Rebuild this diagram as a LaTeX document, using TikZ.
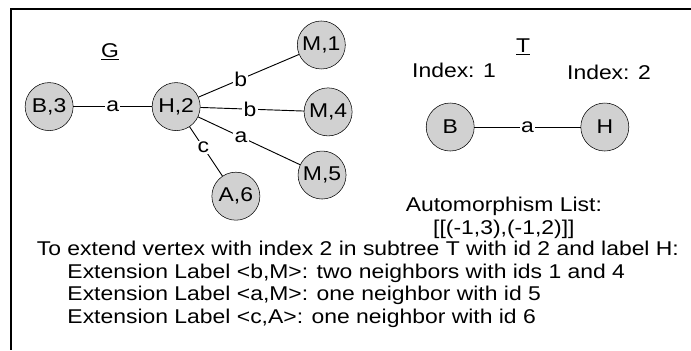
\documentclass[tikz,border=0pt]{standalone}
\usepackage{fontspec}
\setmainfont{Liberation Sans}[FakeStretch=1.15]
\usetikzlibrary{positioning}

\begin{document}
\begin{tikzpicture}[
    font=\fontsize{15}{16.9}\selectfont,
    vertex/.style={circle, draw=black, fill=black!18, minimum size=1.27cm, inner sep=0pt},
    edge/.style={black, line width=0.7pt},
    elabel/.style={fill=white, inner sep=1pt},
    frameline/.style={black, line width=1.5pt}
]

\useasboundingbox (0,0) rectangle (18.28,-9.26);

% Frame (top and left only)
\draw[frameline] (18.28,-0.24) -- (0.29,-0.24) -- (0.29,-9.26);

% Graph G
\node at (2.91,-1.38) (glabel) {\underline{G}};

\node[vertex] at (1.30,-2.82) (b3) {B,3};
\node[vertex] at (4.66,-2.82) (h2) {H,2};
\node[vertex] at (8.50,-1.19) (m1) {M,1};
\node[vertex] at (8.68,-2.96) (m4) {M,4};
\node[vertex] at (8.52,-4.63) (m5) {M,5};
\node[vertex] at (6.24,-5.19) (a6) {A,6};

\draw[edge] (b3) -- (h2) node[elabel, midway] {a};
\draw[edge] (h2) -- (m1) node[elabel, pos=0.42] {b};
\draw[edge] (h2) -- (m4) node[elabel, pos=0.48] {b};
\draw[edge] (h2) -- (m5) node[elabel, pos=0.42] {a};
\draw[edge] (h2) -- (a6) node[elabel, pos=0.42] {c};

% Subtree T
\node at (13.84,-1.24) (tlabel) {\underline{T}};

\node[vertex] at (11.91,-3.36) (tb) {B};
\node[vertex] at (16.00,-3.36) (th) {H};

\draw[edge] (tb) -- (th) node[elabel, midway] {a};

\node at (12.01,-1.85) (idx1) {Index: 1};
\node at (16.11,-1.91) (idx2) {Index: 2};

\node[align=center] at (13.33,-5.76) (auto) {Automorphism List:\\{}[[(-1,3),(-1,2)]]};

% Extension notes
\node[anchor=north west, align=left, inner sep=0pt] at (0.97,-6.38) (notes) {%
    To extend vertex with index 2 in subtree T with id 2 and label H:\\
    \hspace{23pt}Extension Label <b,M>: two neighbors with ids 1 and 4\\
    \hspace{23pt}Extension Label <a,M>: one neighbor with id 5\\
    \hspace{23pt}Extension Label <c,A>: one neighbor with id 6};

\end{tikzpicture}
\end{document}
